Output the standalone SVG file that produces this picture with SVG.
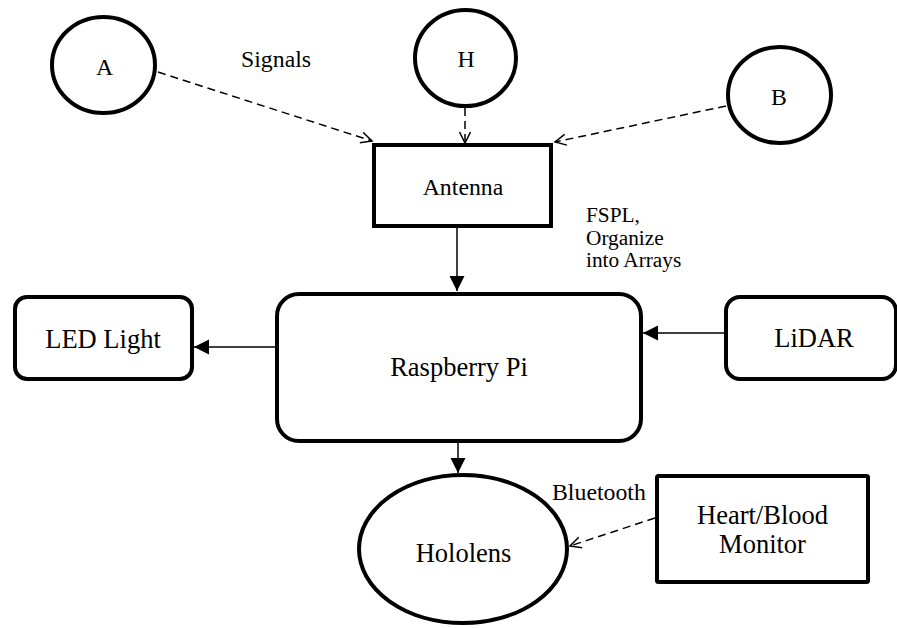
<svg xmlns="http://www.w3.org/2000/svg" width="897" height="628" viewBox="0 0 897 628">
<style>
.n{fill:#fff;stroke:#000;stroke-width:4}
.t{font-family:"Liberation Serif","Times New Roman",serif;fill:#000}
.big{font-size:26.5px}
.mid{font-size:23.8px}
.sm{font-size:21.3px}
.c{stroke:#000;stroke-width:1.5;fill:none}
.d{stroke-dasharray:8 5}
</style>
<defs>
<marker id="open" markerUnits="userSpaceOnUse" markerWidth="14" markerHeight="14" refX="12" refY="6" orient="auto">
<path d="M1,0.5 L12,6 L1,11.5" fill="none" stroke="#000" stroke-width="1.5"/>
</marker>
<marker id="fill" markerUnits="userSpaceOnUse" markerWidth="16" markerHeight="16" refX="15" refY="7.5" orient="auto">
<path d="M0,0 L15,7.5 L0,15 z" fill="#000"/>
</marker>
</defs>
<rect width="897" height="628" fill="#fff"/>
<g id="connectors">
<line class="c d" x1="158" y1="72" x2="372" y2="141" marker-end="url(#open)"/>
<line class="c d" x1="465" y1="108" x2="465" y2="143" marker-end="url(#open)"/>
<line class="c d" x1="726" y1="106" x2="555" y2="142" marker-end="url(#open)"/>
<line class="c" x1="457" y1="228" x2="457" y2="291" marker-end="url(#fill)"/>
<line class="c" x1="275" y1="347" x2="194" y2="347" marker-end="url(#fill)"/>
<line class="c" x1="724" y1="333" x2="643" y2="333" marker-end="url(#fill)"/>
<line class="c" x1="458" y1="443" x2="458" y2="473" marker-end="url(#fill)"/>
<line class="c d" x1="655" y1="518" x2="570" y2="546" marker-end="url(#open)"/>
</g>
<g id="labels">
<text class="t mid" x="241" y="67">Signals</text>
<text class="t sm" x="586" y="222">FSPL,</text>
<text class="t sm" x="586" y="245">Organize</text>
<text class="t sm" x="586" y="267">into Arrays</text>
<text class="t mid" x="552" y="500">Bluetooth</text>
</g>
<g id="node-A">
<ellipse class="n" cx="103.5" cy="65" rx="51.5" ry="48"/>
<text class="t mid" x="104.5" y="75" text-anchor="middle">A</text>
</g>
<g id="node-H">
<ellipse class="n" cx="465.5" cy="58" rx="50.5" ry="48"/>
<text class="t mid" x="466" y="67" text-anchor="middle">H</text>
</g>
<g id="node-B">
<ellipse class="n" cx="779.5" cy="95" rx="51.5" ry="48"/>
<text class="t mid" x="779" y="105" text-anchor="middle">B</text>
</g>
<g id="node-antenna">
<rect class="n" x="374" y="145" width="177" height="81"/>
<text class="t mid" x="463" y="195" text-anchor="middle">Antenna</text>
</g>
<g id="node-raspberry">
<rect class="n" x="277" y="294" width="364" height="147" rx="22"/>
<text class="t big" x="459" y="376" text-anchor="middle">Raspberry Pi</text>
</g>
<g id="node-led">
<rect class="n" x="15" y="297" width="177" height="82" rx="12"/>
<text class="t big" x="103" y="348" text-anchor="middle">LED Light</text>
</g>
<g id="node-lidar">
<rect class="n" x="726" y="297" width="170" height="82" rx="14"/>
<text class="t big" x="814" y="347" text-anchor="middle">LiDAR</text>
</g>
<g id="node-hololens">
<ellipse class="n" cx="463" cy="549" rx="104" ry="74"/>
<text class="t big" x="463.5" y="562" text-anchor="middle">Hololens</text>
</g>
<g id="node-heart">
<rect class="n" x="657" y="476" width="211" height="106" rx="1.5"/>
<text class="t big" x="762.5" y="524" text-anchor="middle">Heart/Blood</text>
<text class="t big" x="762.5" y="553" text-anchor="middle">Monitor</text>
</g>
</svg>
